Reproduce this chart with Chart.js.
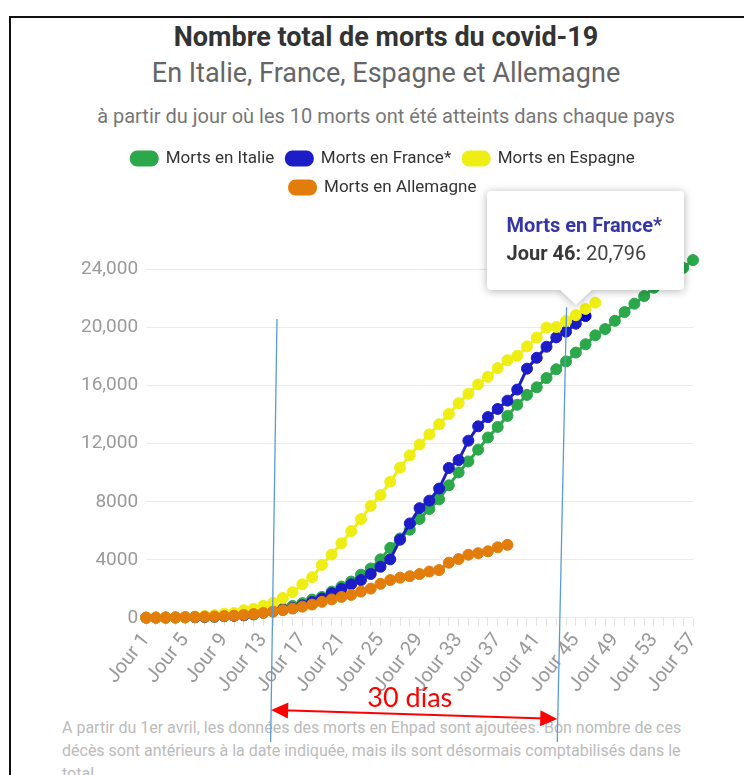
<!DOCTYPE html>
<html>
<head>
<meta charset="utf-8">
<script src="https://cdn.jsdelivr.net/npm/chart.js@4.4.0/dist/chart.umd.min.js"></script>
<style>
  body { margin: 0; background: #fff; font-family: Roboto, sans-serif; }
  #page { position: relative; width: 744px; height: 775px; overflow: hidden; background: #fff; }
  #frame { position: absolute; left: 9px; top: 16px; width: 800px; height: 800px; border-left: 2px solid #111; border-top: 2px solid #111; }
  .head { position: absolute; left: 14px; width: 744px; text-align: center; white-space: nowrap; }
  #t1 { top: 21px; font-size: 27px; line-height: 32px; font-weight: bold; color: #333; }
  #t2 { top: 57px; font-size: 27px; line-height: 32px; color: #666; }
  #t3 { top: 104px; font-size: 20px; line-height: 24px; color: #777; }
  #note { position: absolute; left: 62px; top: 716px; font-size: 16px; line-height: 23px; color: #bbb; white-space: nowrap; }
  #chart { position: absolute; left: 0; top: 0; }
  #tip { position: absolute; display: none; filter: drop-shadow(0 1px 4px rgba(0,0,0,0.3)); }
  #tip .box { background: #fff; border-radius: 4px; padding: 20px 22px 23px 20px; font-size: 20px; line-height: 28px; color: #444; white-space: nowrap; }
  #tip .ttl { font-weight: bold; color: #3636a8; }
  #tip b { color: #383838; }
  #tip .caret { position: absolute; bottom: -15px; width: 0; height: 0; border-left: 17px solid transparent; border-right: 17px solid transparent; border-top: 16px solid #fff; }
</style>
</head>
<body>
<div id="page">
  <div class="head" id="t1">Nombre total de morts du covid-19</div>
  <div class="head" id="t2">En Italie, France, Espagne et Allemagne</div>
  <div class="head" id="t3">à partir du jour où les 10 morts ont été atteints dans chaque pays</div>
  <div id="note">A partir du 1er avril, les données des morts en Ehpad sont ajoutées. Bon nombre de ces<br>décès sont antérieurs à la date indiquée, mais ils sont désormais comptabilisés dans le<br>total.</div>
  <div id="frame"></div>
  <canvas id="chart" width="744" height="775"></canvas>
  <div id="tip"><div class="box"></div><div class="caret"></div></div>
</div>
<script>
// categories: days since 10 deaths were reached
const days = Array.from({ length: 57 }, (_, i) => 'Jour ' + (i + 1));

// cumulative deaths per country
const italy = [10, 12, 17, 21, 29, 34, 52, 79, 107, 148, 197, 233, 366, 463, 631, 827, 1016, 1266, 1441, 1809,
  2158, 2503, 2978, 3405, 4032, 4825, 5476, 6077, 6820, 7503, 8165, 9134, 10023, 10779, 11591, 12428, 13155,
  13915, 14681, 15362, 15887, 16523, 17127, 17669, 18279, 18849, 19468, 19899, 20465, 21067, 21645, 22170,
  22745, 23227, 23660, 24114, 24648];
const france = [16, 19, 25, 33, 48, 61, 79, 91, 127, 148, 175, 264, 372, 450, 562, 674, 860, 1100, 1331, 1696,
  1995, 2314, 2606, 3024, 3523, 4032, 5387, 6507, 7560, 8078, 8911, 10328, 10869, 12210, 13197, 13832, 14393,
  14967, 15729, 17167, 17920, 18681, 19323, 19718, 20265, 20796];
const spain = [10, 17, 28, 35, 54, 84, 133, 195, 289, 342, 533, 623, 830, 1043, 1375, 1772, 2311, 2808, 3647,
  4365, 5138, 5982, 6803, 7716, 8464, 9387, 10348, 11198, 11947, 12641, 13341, 14045, 14792, 15447, 16081,
  16606, 17209, 17756, 18056, 18708, 19315, 20002, 20043, 20453, 20852, 21282, 21717];
const germany = [12, 17, 24, 28, 44, 67, 84, 94, 123, 157, 206, 267, 342, 433, 533, 645, 775, 920, 1107, 1275,
  1444, 1584, 1810, 2016, 2349, 2607, 2767, 2871, 3022, 3194, 3294, 3804, 4052, 4352, 4459, 4586, 4862, 5033];

// y axis ticks and their labels
const yTicks = [0, 4000, 8000, 12000, 16000, 20000, 24000];
const yTickLabels = ['0', '4000', '8000', '12,000', '16,000', '20,000', '24,000'];

const FONT = 'Roboto, sans-serif';

function series(label, data, color, order) {
  return {
    label, data, order,
    borderColor: color, backgroundColor: color,
    borderWidth: 3, pointRadius: 5.5, pointBorderWidth: 1,
    pointHoverRadius: 5.5, pointHoverBorderWidth: 1,
    tension: 0, clip: false
  };
}

// html tooltip, so the day can be bold and the value normal
function drawTip({ chart, tooltip }) {
  const el = document.getElementById('tip');
  if (tooltip.opacity === 0 || !tooltip.dataPoints || !tooltip.dataPoints.length) { el.style.display = 'none'; return; }
  const p = tooltip.dataPoints[0];
  el.querySelector('.box').innerHTML =
    '<div class="ttl">' + p.dataset.label + '</div><div><b>' + p.label + ':</b> ' + p.formattedValue + '</div>';
  el.style.display = 'block';
  const w = el.offsetWidth, h = el.offsetHeight;
  el.style.left = (tooltip.caretX - w / 2) + 'px';
  el.style.top = (tooltip.caretY - h - 26) + 'px';
  el.querySelector('.caret').style.left = (w / 2 - 27) + 'px';
}

// extra room between legend and plot
const legendGap = {
  id: 'legendGap',
  beforeInit(chart) {
    const fit = chart.legend.fit;
    chart.legend.fit = function () { fit.bind(chart.legend)(); this.height += 49; };
  }
};

// hand drawn marks on the screenshot: two blue lines and the red "30 días" arrow
const marks = [
  { fromIdx: 13.4, fromVal: 20600, toIdx: 12.75 },
  { fromIdx: 43.05, fromVal: 21400, toIdx: 42.1 }
];
const overlay = {
  id: 'overlay',
  afterDraw(chart) {
    const { ctx, chartArea } = chart;
    const x = chart.scales.x, y = chart.scales.y;
    const base = chartArea.bottom;
    ctx.save();
    ctx.strokeStyle = '#5b9bd5';
    ctx.lineWidth = 1.3;
    marks.forEach(m => {
      ctx.beginPath();
      ctx.moveTo(x.getPixelForValue(m.fromIdx), y.getPixelForValue(m.fromVal));
      ctx.lineTo(x.getPixelForValue(m.toIdx), base + 124);
      ctx.stroke();
    });

    const x1 = x.getPixelForValue(12.8), y1 = base + 92;
    const x2 = x.getPixelForValue(42.1), y2 = base + 101;
    const ang = Math.atan2(y2 - y1, x2 - x1);
    ctx.strokeStyle = '#ff0000';
    ctx.fillStyle = '#ff0000';
    ctx.lineWidth = 2;
    ctx.beginPath();
    ctx.moveTo(x1 + 12 * Math.cos(ang), y1 + 12 * Math.sin(ang));
    ctx.lineTo(x2 - 12 * Math.cos(ang), y2 - 12 * Math.sin(ang));
    ctx.stroke();
    [[x1, y1, ang + Math.PI], [x2, y2, ang]].forEach(([px, py, a]) => {
      ctx.beginPath();
      ctx.moveTo(px, py);
      ctx.lineTo(px - 17 * Math.cos(a) - 8 * Math.sin(a), py - 17 * Math.sin(a) + 8 * Math.cos(a));
      ctx.lineTo(px - 17 * Math.cos(a) + 8 * Math.sin(a), py - 17 * Math.sin(a) - 8 * Math.cos(a));
      ctx.closePath();
      ctx.fill();
    });

    ctx.font = '27px Lato, sans-serif';
    ctx.textAlign = 'center';
    ctx.textBaseline = 'middle';
    ctx.fillText('30 días', x.getPixelForValue(27.0), base + 80);
    ctx.restore();
  }
};

const chart = new Chart(document.getElementById('chart'), {
  type: 'line',
  data: {
    labels: days,
    datasets: [
      series('Morts en Italie', italy, '#2aa84a', 4),
      series('Morts en France*', france, '#1d1dc8', 3),
      series('Morts en Espagne', spain, '#eeee14', 2),
      series('Morts en Allemagne', germany, '#e27d0c', 1)
    ]
  },
  options: {
    responsive: false,
    animation: false,
    events: [],
    layout: { padding: { top: 138, left: 73, right: 51, bottom: 75 } },
    plugins: {
      legend: {
        labels: {
          font: { family: FONT, size: 17 },
          color: '#333',
          boxWidth: 26,
          boxHeight: 13,
          useBorderRadius: true,
          borderRadius: 6,
          padding: 12,
          sort: (a, b) => a.datasetIndex - b.datasetIndex
        }
      },
      tooltip: { enabled: false, external: drawTip }
    },
    scales: {
      x: {
        grid: { drawOnChartArea: false, color: '#e4e4e4', tickLength: 8 },
        border: { display: false },
        ticks: {
          autoSkip: false, maxRotation: 52, minRotation: 52,
          color: '#9a9a9a', font: { family: FONT, size: 20 },
          callback: (v, i) => (i % 4 === 0 ? days[i] : '')
        }
      },
      y: {
        min: 0, max: 25000,
        afterBuildTicks: ax => { ax.ticks = yTicks.map(v => ({ value: v })); },
        grid: { color: '#ebebeb', drawTicks: false },
        border: { display: false },
        ticks: {
          padding: 8, color: '#9a9a9a', font: { family: FONT, size: 19 },
          callback: v => yTickLabels[yTicks.indexOf(v)]
        }
      }
    }
  },
  plugins: [legendGap, overlay]
});

// the reference shows the tooltip of France on day 46
const active = [{ datasetIndex: 1, index: 45 }];
chart.setActiveElements(active);
chart.tooltip.setActiveElements(active, { x: 0, y: 0 });
chart.update();
</script>
</body>
</html>
